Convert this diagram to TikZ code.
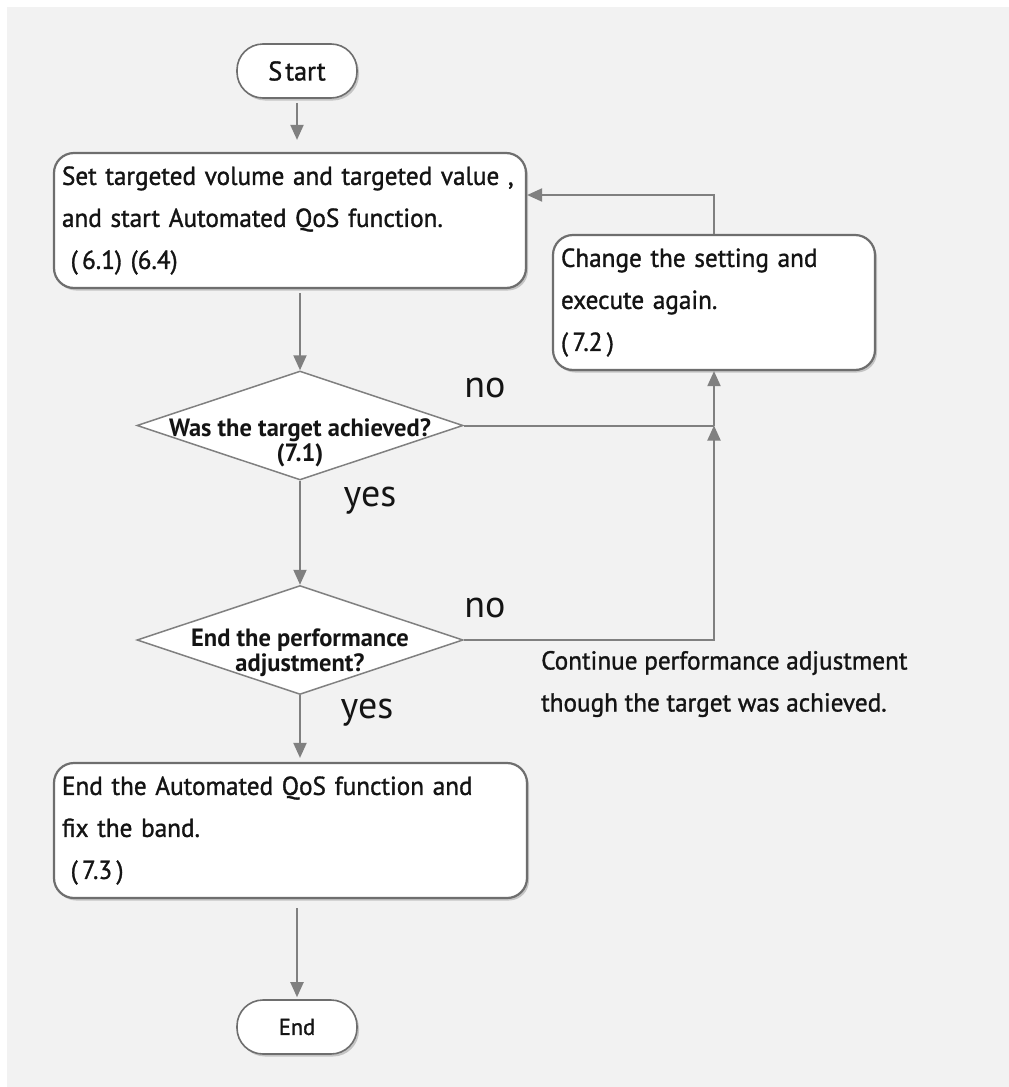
\documentclass[tikz,border=0pt]{standalone}
\usepackage{fontspec}
\setmainfont{PT Sans}
\newfontfamily\boxfont{PT Sans}[FakeStretch=0.97, FakeBold=1.2]
\newfontfamily\decfont{PT Sans Bold}[FakeStretch=0.98]
\newfontfamily\lblfont{PT Sans}
\usetikzlibrary{arrows.meta,shapes.geometric,shadows}
\definecolor{bg}{HTML}{F2F2F2}
\definecolor{edge}{HTML}{6E6E6E}
\definecolor{conn}{HTML}{808080}
\definecolor{ink}{HTML}{141414}
\tikzset{
  shad/.style={drop shadow={shadow xshift=2pt,shadow yshift=-2.5pt,fill=black!45,opacity=0.45}},
  stadium/.style={draw=edge,line width=1.6pt,fill=white,rounded corners=26pt,shad,
    minimum width=120pt,minimum height=54pt,inner sep=0pt,text=ink},
  procbox/.style={draw=edge,line width=2.2pt,fill=white,rounded corners=20pt,shad,
    inner xsep=8pt,inner ysep=0pt,align=left,text=ink,
    font=\boxfont\fontsize{26}{42}\selectfont},
  dec/.style={shape=diamond,draw=conn,line width=1.5pt,fill=white,inner sep=0pt,
    minimum width=326pt,minimum height=109pt},
  dectext/.style={align=center,text=ink,font=\decfont\fontsize{25}{25}\selectfont},
  arr/.style={draw=conn,line width=2pt,-{Triangle[length=15pt,width=13pt]}},
  ln/.style={draw=conn,line width=2pt},
  yn/.style={text=ink,font=\lblfont\fontsize{38}{40}\selectfont,inner sep=0pt},
  note/.style={align=left,text=ink,anchor=west,inner sep=0pt,
    font=\boxfont\fontsize{26}{42}\selectfont}
}
\begin{document}
\begin{tikzpicture}[x=1pt,y=-1pt]
\useasboundingbox (0,0) rectangle (1009,1087);
\fill[white] (0,0) rectangle (1009,1087);
\fill[bg] (7,7) rectangle (1009,1087);

\node[stadium,font=\boxfont\fontsize{27}{30}\selectfont] (start) at (297,71) {S\kern3pt tart};
\node[procbox,text width=456pt,minimum height=135pt] (box1) at (290,220.5)
  {Set targeted volume and targeted value ,\\and start Automated QoS function.\\\ (\,6.1) (6.4)};
\node[procbox,text width=306pt,minimum height=135pt] (box2) at (714,302.5)
  {Change the setting and\\execute again.\\(\,7.2\,)};
\node[dec] (d1) at (300,425.5) {};
\node[dectext] (d1t) at ([yshift=-17pt]d1.center) {Was the target achieved?\\(7.1)};
\node[dec] (d2) at (300,640) {};
\node[dectext] (d2t) at ([yshift=-13pt]d2.center) {End the performance\\adjustment?};
\node[procbox,text width=457pt,minimum height=135pt] (box3) at (290.5,830.5)
  {End the Automated QoS function and\\fix the band.\\\ (\,7.3\,)};
\node[stadium,font=\boxfont\fontsize{23}{26}\selectfont] (end) at (297,1027) {End};

\node[yn] (no1) at (485,388) {no};
\node[yn] (yes1) at (370,501) {yes};
\node[yn] (no2) at (485,608) {no};
\node[yn] (yes2) at (367,713) {yes};
\node[note] (cont) at (541,684) {Continue performance adjustment\\though the target was achieved.};

\coordinate (j) at (714,425.5);

\draw[arr,shorten <=4pt,shorten >=12pt] (start.south) -- (start.south |- box1.north);
\draw[arr,shorten <=4pt] (d1.north |- box1.south) -- (d1.north);
\draw[arr] (d1.south) -- (d2.north);
\draw[arr,shorten >=4pt] (d2.south) -- (d2.south |- box3.north);
\draw[arr,shorten <=9pt,shorten >=2pt] (end.north |- box3.south) -- (end.north);
\draw[ln] (d1.east) -- (j);
\draw[arr] (d2.east) -| (j);
\draw[arr] (j) -- (box2.south);
\draw[arr] (box2.north) |- ([yshift=25.5pt]box1.east);
\end{tikzpicture}
\end{document}
